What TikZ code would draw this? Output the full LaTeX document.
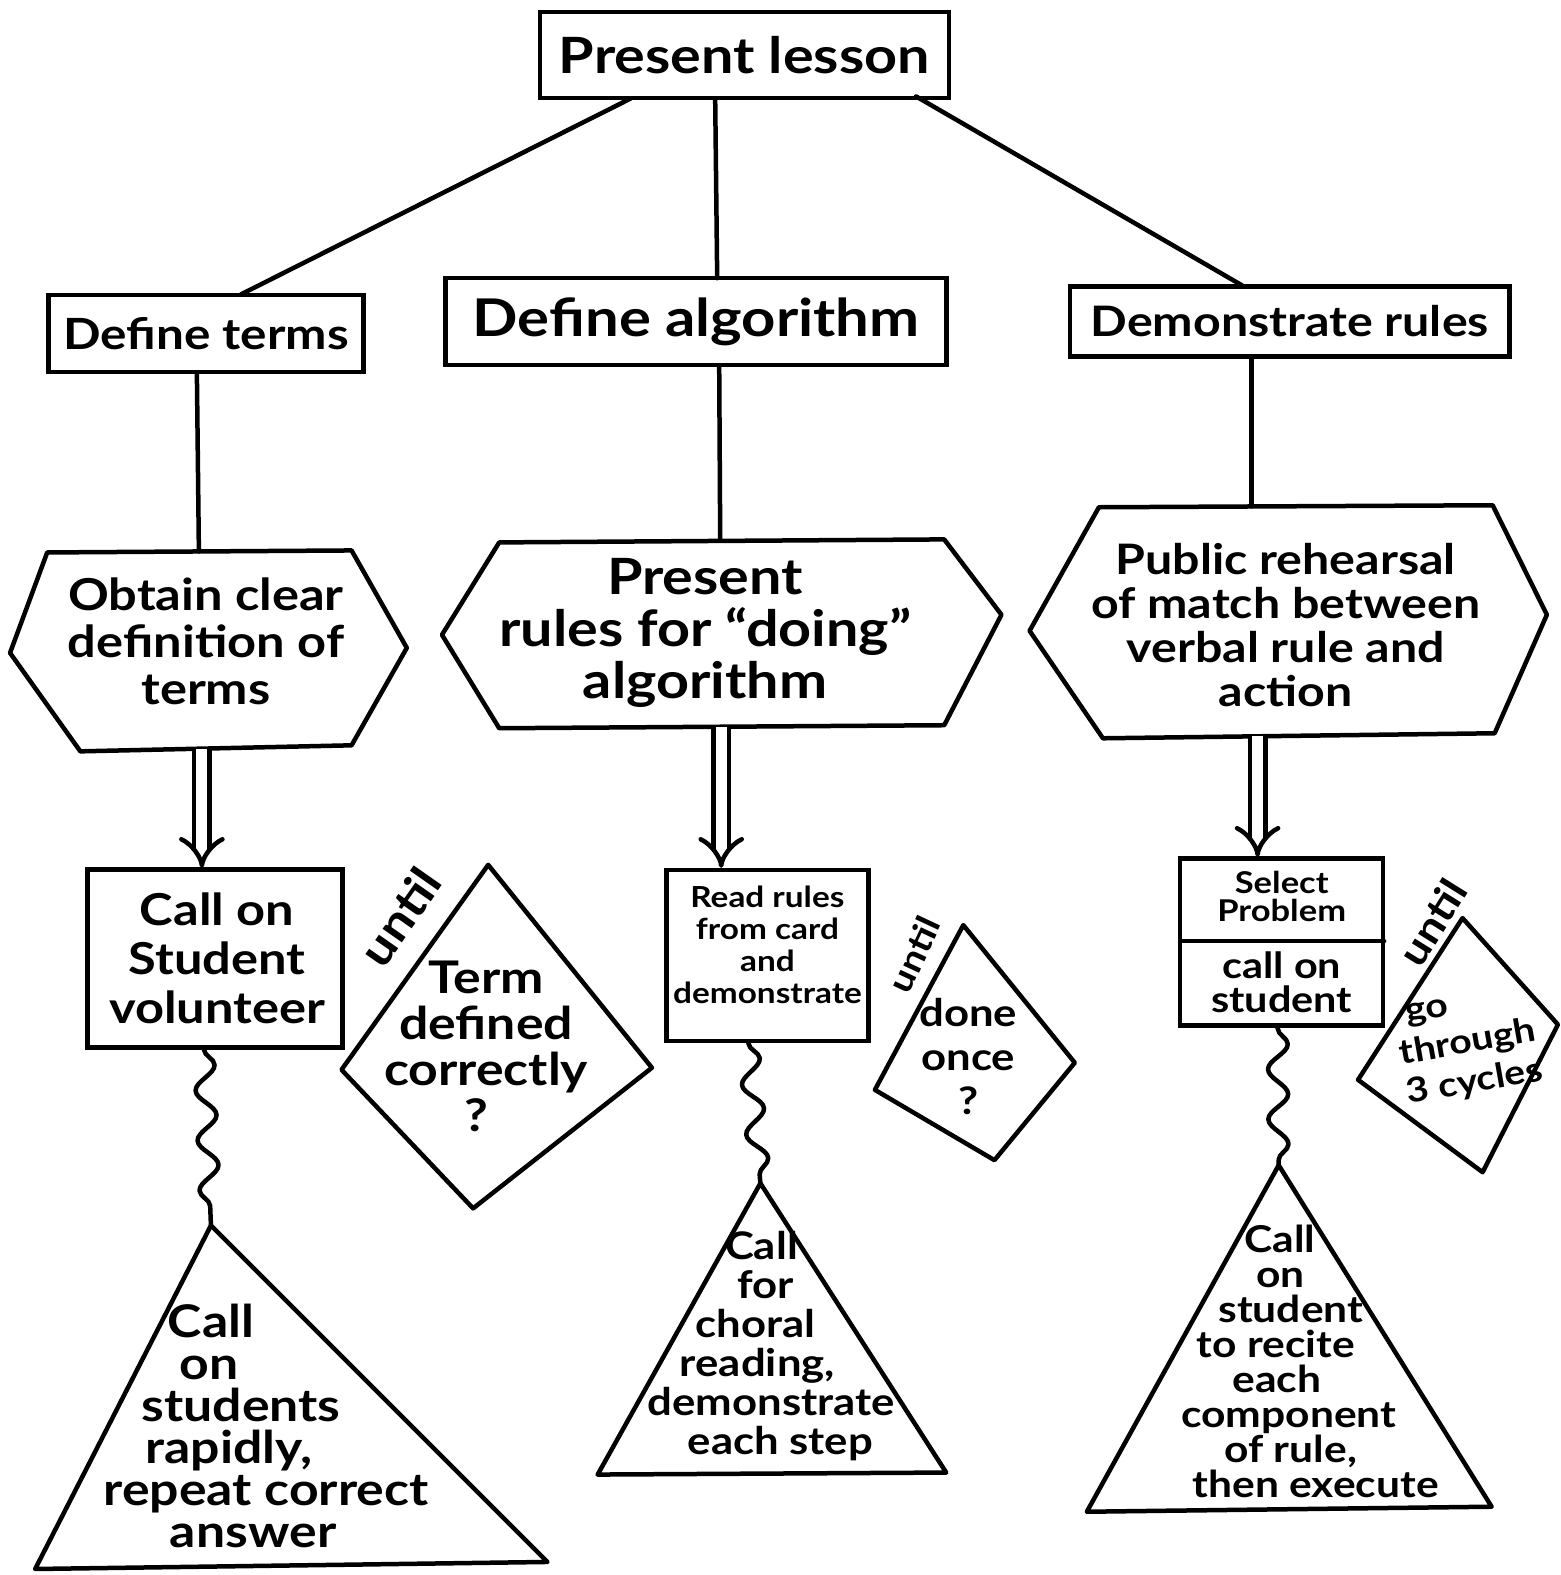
\documentclass[tikz,border=0pt]{standalone}
\usepackage{fontspec}
\setmainfont{Lato}[FakeStretch=1.15]
\usetikzlibrary{decorations.pathmorphing,arrows.meta}
\newcommand\myfs[2]{\fontsize{#1}{#2}\selectfont\bfseries}
\newcommand\mvl[2]{\hspace*{#1pt}#2}
\begin{document}
\begin{tikzpicture}[x=1.0045pt,y=-1.0045pt,
  ln/.style={line width=4.5pt, line join=round, line cap=round},
  box/.style={draw, line width=4.5pt, rectangle, inner sep=0pt},
  txt/.style={align=center, inner sep=0pt},
  wave/.style={ln, decorate, decoration={snake, segment length=50pt, amplitude=10pt, pre length=2pt, post length=2pt}},
  dbl/.style={line width=4.5pt, double, double distance=11pt, -{Implies[length=14pt,width=30pt]}}]
\useasboundingbox (0,0) rectangle (1554,1568);
% top level
\node[box, minimum width=409pt, minimum height=86pt, font=\myfs{50}{56}] (pl) at (741,55) {Present lesson};
\node[box, minimum width=315pt, minimum height=77pt, font=\myfs{43}{50}] (dt) at (205,332) {Define terms};
\node[box, minimum width=501pt, minimum height=87pt, font=\myfs{52}{58}] (da) at (693,320) {Define algorithm};
\node[box, minimum width=440pt, minimum height=70pt, font=\myfs{42}{48}] (dr) at (1284,320) {Demonstrate rules};
\coordinate (plL) at (628,98);
\coordinate (plC) at (712,98);
\coordinate (plR) at (912,96);
\coordinate (dtT) at (240,293);
\coordinate (daT) at (714,277);
\coordinate (drT) at (1238,285);
\draw[ln] (plL) -- (dtT);
\draw[ln] (plC) -- (daT);
\draw[ln] (plR) -- (drT);
% hexagons
\coordinate (h1t) at (198,549);
\coordinate (h1b) at (201,746);
\coordinate (h2t) at (717,538);
\coordinate (h2b) at (718,724);
\coordinate (h3t) at (1246,504);
\coordinate (h3b) at (1252,733);
\draw[ln] (47,550) -- (350,548) -- (405,645) -- (350,742) -- (80,748) -- (10,650) -- cycle;
\draw[ln] (497,540) -- (940,537) -- (997,612) -- (940,722) -- (497,725) -- (440,632) -- cycle;
\draw[ln] (1094,505) -- (1486,503) -- (1540,612) -- (1488,730) -- (1098,735) -- (1025,628) -- cycle;
\node[txt, font=\myfs{44}{47}] (h1) at (205,638) {Obtain clear\\definition of\\terms};
\node[txt, font=\myfs{50}{52}] (h2) at (702,630) {Present\\rules for “doing”\\algorithm};
\node[txt, font=\myfs{42}{44}] (h3) at (1280,622) {Public rehearsal\\of match between\\verbal rule and\\action};
\coordinate (dtB) at (196,371);
\coordinate (daB) at (716,365);
\coordinate (drB) at (1246,357);
\draw[ln] (dtB) -- (h1t);
\draw[ln] (daB) -- (h2t);
\draw[ln] (drB) -- (h3t);
% third row boxes
\node[box, minimum width=255pt, minimum height=178pt] (b1) at (214,954) {};
\node[txt, font=\myfs{44}{49}] (b1t) at (216,954) {Call on\\Student\\volunteer};
\node[box, minimum width=202pt, minimum height=171pt] (b2) at (764,951) {};
\node[txt, font=\myfs{29}{32}] (b2t) at (764,941) {Read rules\\from card\\and\\demonstrate};
\node[box, minimum width=203pt, minimum height=167pt] (b3) at (1276,938) {};
\coordinate (b3dl) at (1175,937);
\coordinate (b3dr) at (1378,937);
\draw[ln] (b3dl) -- (b3dr);
\node[txt, font=\myfs{30}{28}] (b3a) at (1276,892) {Select\\Problem};
\node[txt, font=\myfs{36}{34}] (b3b) at (1276,978) {call on\\student};
\coordinate (b1top) at (201,864);
\coordinate (b2top) at (718,864);
\coordinate (b3top) at (1252,853);
\draw[dbl] (h1b) -- (b1top);
\draw[dbl] (h2b) -- (b2top);
\draw[dbl] (h3b) -- (b3top);
% diamonds
\draw[ln] (486,861) -- (649,1063) -- (471,1203) -- (340,1065) -- cycle;
\draw[ln] (959,921) -- (1070,1058) -- (990,1155) -- (871,1085) -- cycle;
\draw[ln] (1456,914) -- (1551,1020) -- (1476,1167) -- (1352,1075) -- cycle;
\node[txt, font=\myfs{45}{46}] (d1) at (484,1042) {Term\\defined\\correctly\\\mvl{-20}{?}};
\node[txt, font=\myfs{38}{44}] (d2) at (964,1052) {done\\once\\?};
\node[txt, font=\myfs{34}{40}, rotate=10] (d3) at (1462,1042) {\mvl{-70}{go}\\through\\3 cycles};
\node[txt, font=\myfs{46}{46}, rotate=55] (u1) at (398,913) {until};
\node[txt, font=\myfs{34}{34}, rotate=65] (u2) at (910,950) {until};
\node[txt, font=\myfs{40}{40}, rotate=58] (u3) at (1426,918) {until};
% triangles
\coordinate (t1a) at (210,1220);
\coordinate (t2a) at (757,1178);
\coordinate (t3a) at (1273,1160);
\draw[ln] (t1a) -- (545,1555) -- (35,1562) -- cycle;
\draw[ln] (t2a) -- (942,1466) -- (595,1468) -- cycle;
\draw[ln] (t3a) -- (1485,1500) -- (1082,1505) -- cycle;
\coordinate (b1b) at (203,1043);
\coordinate (b2b) at (745,1037);
\coordinate (b3b0) at (1272,1022);
\draw[wave] (b1b) -- (t1a);
\draw[wave] (b2b) -- (t2a);
\draw[wave] (b3b0) -- (t3a);
\node[txt, font=\myfs{45}{42}] (tt1) at (245,1420) {\mvl{-70}{Call}\\\mvl{-74}{on}\\\mvl{-10}{students}\\\mvl{-34}{rapidly,}\\\mvl{40}{repeat correct}\\\mvl{14}{answer}};
\node[txt, font=\myfs{38}{39}] (tt2) at (765,1340) {\mvl{-14}{Call}\\\mvl{-6}{for}\\\mvl{-26}{choral}\\\mvl{-22}{reading,}\\\mvl{6}{demonstrate}\\\mvl{24}{each step}};
\node[txt, font=\myfs{37}{35}] (tt3) at (1285,1355) {\mvl{-22}{Call}\\\mvl{-20}{on}\\student\\\mvl{-30}{to recite}\\\mvl{-28}{each}\\\mvl{-4}{component}\\of rule,\\\mvl{50}{then execute}};
\end{tikzpicture}
\end{document}
